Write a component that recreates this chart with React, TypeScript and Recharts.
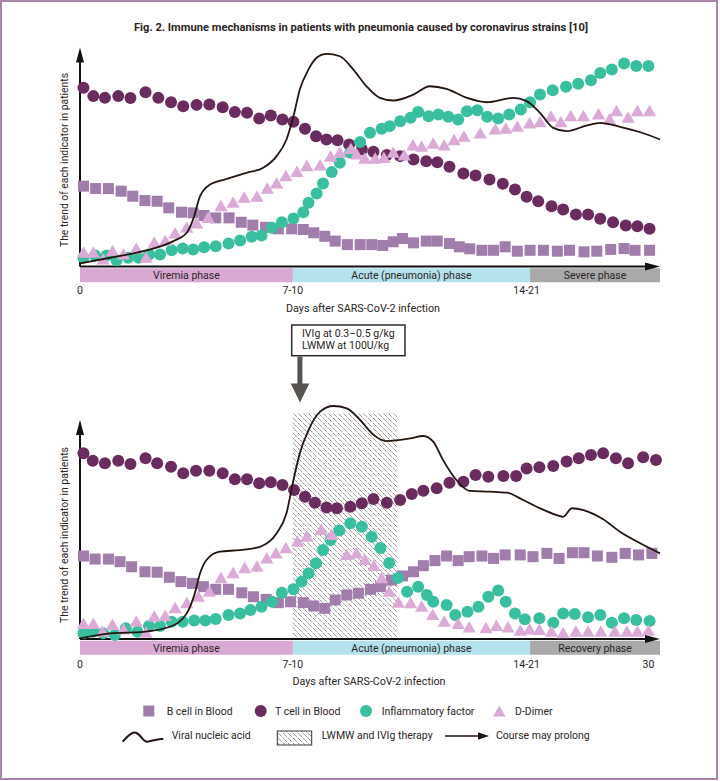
import React from 'react';
import {
  ComposedChart,
  Scatter,
  Line,
  XAxis,
  YAxis,
  ReferenceArea,
  ReferenceLine,
  ReferenceDot,
} from 'recharts';

// ---------- colours ----------
const C_B = '#a07dab';
const C_T = '#6a2c5e';
const C_INF = '#39bf9f';
const C_DD = '#dcaad7';
const C_LINE = '#24150f';
const TXT = '#2b2523';
const FRAME = '#a884a8';

// ---------- shared axis data ----------
const phaseBounds = [0, 36.7, 77.6, 100];
const phaseColors = ['#d9a9d3', '#b4e2ec', '#a9a9a9'];
const topPhaseNames = ['Viremia phase', 'Acute (pneumonia) phase', 'Severe phase'];
const bottomPhaseNames = ['Viremia phase', 'Acute (pneumonia) phase', 'Recovery phase'];
const topTickValues = [0, 36.7, 77.0];
const topTickLabels = ['0', '7-10', '14-21'];
const bottomTickValues = [0, 36.7, 77.0, 98.0];
const bottomTickLabels = ['0', '7-10', '14-21', '30'];
const therapyWindow = [36.6, 54.7];

// ---------- top panel (without therapy) ----------
const topTCellX = [0.6,2.3,4.3,6.6,8.7,11.3,13.5,15.7,17.8,20.1,22.3,24.6,26.7,28.8,30.9,32.9,34.9,36.8,38.8,40.7,42.5,44.4,46.4,48.6,50.6,52.9,55.2,57.5,59.7,61.6,63.7,66.1,68.2,70.6,72.9,75.0,77.0,79.0,81.3,83.3,85.5,87.6,89.7,91.9,94.1,96.1,98.2];
const topTCellY = [81.6,77.8,77.0,77.8,76.9,79.6,77.0,75.0,73.2,73.8,74.0,72.7,70.5,70.2,67.6,69.0,67.1,66.1,62.9,59.5,58.0,57.7,55.7,53.4,52.4,50.9,50.4,48.9,48.1,47.6,45.5,42.5,41.6,39.7,37.8,35.2,31.8,29.8,27.5,26.0,23.7,23.7,21.8,20.2,18.7,18.4,17.2];

const topBCellX = [0.6,2.7,4.9,7.1,9.1,11.2,13.3,15.3,17.5,19.5,21.4,23.4,25.7,27.8,29.8,32.0,34.2,36.5,38.5,40.3,42.2,44.0,46.1,48.3,50.3,52.2,54.0,55.6,57.5,59.7,61.6,63.7,65.4,67.2,69.3,71.3,73.3,75.4,77.6,79.9,82.3,84.4,86.9,89.1,91.5,93.8,95.7,98.2];
const topBCellY = [36.7,35.6,35.6,34.4,32.1,30.1,29.8,26.8,24.8,24.5,23.3,22.2,22.2,20.2,18.9,17.9,17.2,17.2,16.9,15.4,13.8,11.6,10.0,10.0,10.0,9.6,11.3,12.8,10.8,11.6,11.6,10.5,9.0,8.1,7.4,7.4,9.0,7.0,7.4,7.4,7.0,7.4,6.7,7.0,7.8,8.2,7.4,7.4];

const topInflX = [0.6,2.6,4.6,6.3,8.3,10.1,11.9,13.8,15.8,17.7,19.5,21.4,23.4,25.6,27.6,29.6,31.3,33.1,34.8,36.8,38.5,39.4,40.8,41.9,43.4,44.8,46.6,48.3,50.0,52.0,53.4,55.2,57.0,58.3,60.1,61.8,63.5,65.2,66.7,68.5,70.2,72.1,74.0,76.0,77.6,79.3,81.5,83.8,85.9,88.1,89.7,91.7,93.8,95.9,98.0];
const topInflY = [4.0,5.0,5.0,2.9,4.0,4.0,5.5,5.5,7.4,8.2,7.8,8.8,9.3,10.5,11.9,13.6,14.2,17.7,20.2,21.9,24.8,29.1,33.3,37.9,43.1,47.4,51.9,56.8,61.1,62.9,64.1,66.3,67.9,70.5,68.6,69.4,68.4,67.1,70.9,71.4,68.4,67.6,69.4,71.7,75.0,78.5,80.5,82.1,83.4,85.1,88.4,90.0,92.7,91.5,91.5];

const topDimerX = [0.6,2.3,4.0,5.6,7.5,9.7,11.4,12.8,14.7,16.4,18.4,20.1,22.1,24.3,26.4,28.3,30.5,32.3,33.9,35.5,37.4,39.1,41.4,43.2,44.8,46.7,47.7,49.1,50.9,52.4,54.0,55.9,57.4,58.9,60.9,62.8,64.5,66.2,69.0,71.6,73.4,75.4,77.5,79.3,81.2,82.9,84.6,86.8,89.4,91.3,92.5,94.5,96.1,98.2];
const topDimerY = [6.3,6.3,3.2,7.0,5.5,8.1,4.0,10.8,11.6,15.1,17.7,19.6,22.2,27.5,29.1,31.4,31.8,35.5,37.9,41.2,43.2,45.8,46.1,50.1,51.9,53.7,51.1,49.2,49.2,49.6,51.9,50.7,55.3,54.7,56.0,55.3,57.7,59.2,60.7,62.6,62.9,63.8,65.3,65.9,68.4,65.9,68.6,68.6,69.4,67.1,70.9,67.9,70.9,70.9];

const topViralX = [0,5.2,10.9,16.1,18.4,19.5,20.7,22.4,25.3,28.7,31.6,33.9,35.6,36.8,37.9,39.4,40.8,42.5,44.8,47.1,49.4,51.7,54.0,57.5,60.3,63.2,66.7,70.1,74.7,77.0,79.3,81.6,83.9,87.4,89.7,93.1,96.6,100];
const topViralY = [1.4,4.0,7.0,11.6,15.4,21.5,32.1,37.4,40.0,42.8,45.1,50.4,58.0,68.6,80.8,90.0,95.3,97.1,96.0,90.0,82.3,77.0,75.8,78.5,82.3,81.1,77.0,75.0,77.0,75.5,70.2,63.3,61.8,64.4,65.6,63.8,61.3,58.0];

// ---------- bottom panel (with therapy) ----------
const botTCellX = [0.6,2.2,4.3,6.6,8.7,11.3,13.3,15.7,17.8,20.0,22.3,24.6,26.7,28.8,30.9,32.9,34.9,36.9,38.8,40.5,42.5,44.3,46.6,48.6,50.6,52.9,55.2,57.2,59.2,61.5,63.7,66.1,68.2,70.4,73.0,75.2,77.0,79.2,81.6,83.9,86.0,88.1,90.2,92.4,94.5,97.1,99.3];
const botTCellY = [84.8,81.4,80.2,81.4,79.9,82.5,80.2,78.7,75.7,76.8,76.8,75.7,72.9,72.9,71.1,71.6,70.3,68.0,65.0,62.2,60.1,59.7,60.4,62.0,63.9,62.2,63.5,66.2,67.7,68.8,71.4,71.8,74.9,74.1,74.4,74.4,77.9,78.4,79.0,81.0,82.5,84.0,84.8,82.5,80.2,83.0,81.7];

const botBCellX = [0.6,2.6,4.9,6.9,8.9,11.2,13.3,15.4,17.4,19.4,21.3,23.4,25.6,27.9,29.9,32.1,34.2,36.3,38.5,40.3,42.2,44.0,46.0,48.0,50.1,51.8,53.7,55.6,57.5,59.2,61.2,63.2,65.2,67.1,69.3,71.3,73.3,75.9,78.1,80.5,82.6,84.9,86.9,89.2,91.7,94.0,96.3,98.6];
const botBCellY = [37.9,36.5,36.5,35.3,33.0,30.7,30.5,28.2,26.2,25.4,23.9,22.7,22.7,21.1,19.3,18.1,16.6,17.0,16.6,15.1,14.0,17.8,20.1,20.9,22.7,23.9,26.9,28.8,30.7,33.5,35.8,37.9,35.8,37.6,37.9,36.8,38.4,38.4,37.6,39.1,36.8,39.4,39.4,37.9,37.3,39.1,38.4,39.1];

const botInflX = [0.6,2.3,4.0,6.0,7.9,9.9,11.9,13.8,15.8,17.7,19.7,21.6,23.4,25.6,27.6,29.4,31.3,33.1,34.8,36.8,38.2,39.4,40.7,41.9,43.2,44.7,46.6,48.6,50.3,51.8,53.3,54.8,56.4,58.3,59.8,60.9,63.2,64.7,66.8,68.7,70.4,72.1,73.4,75.0,76.7,79.2,81.6,83.3,85.3,87.6,89.7,91.7,93.8,95.9,98.2];
const botInflY = [2.6,3.3,2.6,1.8,4.9,3.3,5.9,5.9,7.9,7.9,8.4,8.4,9.1,11.0,11.7,13.2,14.7,17.0,21.1,22.7,26.2,30.0,34.6,40.6,45.2,49.5,52.8,51.3,46.7,41.6,34.7,27.9,21.6,23.9,20.1,17.0,15.5,11.0,12.5,14.7,19.3,22.1,17.0,11.7,9.0,9.5,7.4,11.7,11.4,9.9,11.0,7.4,9.5,8.7,8.2];

const botDimerX = [0.6,2.3,3.9,5.6,7.5,9.7,11.4,12.8,14.7,16.4,18.4,20.4,22.3,24.3,26.4,28.4,30.5,32.2,33.8,35.5,37.5,39.1,41.6,43.4,46.0,47.7,49.1,50.7,52.0,53.3,54.9,57.0,58.9,60.8,62.8,65.2,67.1,70.0,71.8,73.8,75.9,77.5,79.2,81.3,83.3,85.5,87.6,89.8,92.2,94.3,96.1,98.0];
const botDimerY = [6.8,6.8,3.3,6.4,4.4,7.9,2.9,10.2,10.5,14.0,16.3,19.3,21.6,27.7,30.0,32.3,33.0,36.8,39.1,41.4,44.4,46.7,49.8,47.5,38.4,39.1,36.1,33.3,27.7,21.6,16.6,16.3,14.7,11.0,7.9,6.8,5.3,4.9,5.9,5.3,3.8,4.4,4.1,3.3,2.6,3.3,3.3,3.3,3.3,3.3,3.3,3.8];

const botViralX = [0,5.2,10.9,15.5,18.4,19.8,20.7,21.8,24.1,27.6,31.0,33.9,35.6,36.8,37.9,39.4,41.4,43.7,46.0,48.3,50.6,52.9,56.9,59.2,60.9,62.6,64.9,67.2,70.7,73.6,76.4,79.3,82.2,83.3,84.8,86.8,90.2,93.1,96.6,100];
const botViralY = [0.3,2.6,3.3,5.6,11.7,20.9,30.0,36.1,39.9,40.6,42.1,48.3,57.4,72.6,84.8,95.4,103.8,106.4,105.3,100.0,93.2,90.4,91.6,92.7,90.1,81.7,72.6,67.6,67.3,66.8,63.5,59.7,56.6,55.8,59.7,58.9,54.7,49.0,43.7,39.1];

type Pt = { x: number; y: number };
const zip = (xs: number[], ys: number[]): Pt[] => xs.map((x, i) => ({ x, y: ys[i] }));

// ---------- marker shapes ----------
const squareShape = (p: any) => (
  <rect x={p.cx - 5.5} y={p.cy - 5.5} width={11} height={11} fill={C_B} />
);
const tCircle = (p: any) => <circle cx={p.cx} cy={p.cy} r={6} fill={C_T} />;
const infCircle = (p: any) => <circle cx={p.cx} cy={p.cy} r={6} fill={C_INF} />;
const triShape = (p: any) => (
  <polygon
    points={`${p.cx},${p.cy - 6.5} ${p.cx + 6.6},${p.cy + 5} ${p.cx - 6.6},${p.cy + 5}`}
    fill={C_DD}
  />
);
const upArrow = (p: any) => (
  <polygon points={`${p.cx},${p.cy} ${p.cx + 4},${p.cy + 15} ${p.cx - 4},${p.cy + 15}`} fill="#111" />
);
const rightArrow = (p: any) => (
  <polygon points={`${p.cx},${p.cy} ${p.cx - 15},${p.cy - 4} ${p.cx - 15},${p.cy + 4}`} fill="#111" />
);

type PanelProps = {
  height: number;
  mt: number;
  mb: number;
  tickMargin: number;
  tCell: Pt[];
  bCell: Pt[];
  infl: Pt[];
  dimer: Pt[];
  viral: Pt[];
  phaseNames: string[];
  tickValues: number[];
  tickLabels: string[];
  hatch: boolean;
  pid: string;
};

const Panel = (props: PanelProps) => {
  const { tickValues, tickLabels } = props;
  return (
    <ComposedChart
      width={720}
      height={props.height}
      margin={{ top: props.mt, right: 60, bottom: props.mb, left: 80 }}
    >
      <defs>
        <pattern id={props.pid} patternUnits="userSpaceOnUse" width="5" height="5">
          <path d="M0,0 L5,5" stroke="#4d4d4d" strokeWidth="0.9" strokeDasharray="1 1.1" />
        </pattern>
      </defs>
      <XAxis
        type="number"
        dataKey="x"
        domain={[0, 100]}
        ticks={tickValues}
        interval={0}
        tickFormatter={(v: number) => tickLabels[tickValues.indexOf(v)] ?? ''}
        axisLine={false}
        tickLine={false}
        tickSize={0}
        tickMargin={props.tickMargin}
        height={30}
        tick={{ fontSize: 10.5, fill: TXT }}
      />
      <YAxis type="number" dataKey="y" domain={[-7.3, 110]} hide />
      {props.hatch && (
        <ReferenceArea
          x1={therapyWindow[0]}
          x2={therapyWindow[1]}
          y1={0}
          y2={103}
          fill={`url(#${props.pid})`}
          fillOpacity={1}
          stroke="none"
        />
      )}
      {props.phaseNames.map((n, i) => (
        <ReferenceArea
          key={n + i}
          x1={phaseBounds[i]}
          x2={phaseBounds[i + 1]}
          y1={-7.2}
          y2={-0.8}
          fill={phaseColors[i]}
          fillOpacity={1}
          stroke="none"
          label={{ value: n, position: 'center', fontSize: 10.5, fill: TXT }}
        />
      ))}
      <Scatter name="B cell in Blood" data={props.bCell} dataKey="y" shape={squareShape} isAnimationActive={false} />
      <Scatter name="T cell in Blood" data={props.tCell} dataKey="y" shape={tCircle} isAnimationActive={false} />
      <Scatter name="Inflammatory factor" data={props.infl} dataKey="y" shape={infCircle} isAnimationActive={false} />
      <Scatter name="D-Dimer" data={props.dimer} dataKey="y" shape={triShape} isAnimationActive={false} />
      <Line
        name="Viral nucleic acid"
        data={props.viral}
        dataKey="y"
        type="monotone"
        stroke={C_LINE}
        strokeWidth={1.8}
        dot={false}
        activeDot={false}
        isAnimationActive={false}
        zIndex={1000}
      />
      <ReferenceLine segment={[{ x: 0, y: 0 }, { x: 0, y: 95 }]} stroke="#111" strokeWidth={2} />
      <ReferenceLine segment={[{ x: 0, y: 0 }, { x: 97.5, y: 0 }]} stroke="#111" strokeWidth={2} />
      <ReferenceDot x={0} y={100} shape={upArrow} />
      <ReferenceDot x={100} y={0} shape={rightArrow} />
    </ComposedChart>
  );
};

const FONT = 'Roboto, "DejaVu Sans", sans-serif';

export default function App() {
  return (
    <div
      style={{
        position: 'absolute',
        left: 0,
        top: 0,
        width: 720,
        height: 781,
        background: '#fff',
        fontFamily: FONT,
        overflow: 'hidden',
      }}
    >
      <div style={{ position: 'absolute', left: 0, top: 0 }}>
        <Panel
          height={315}
          mt={25.6}
          mb={2.5}
          tickMargin={4}
          tCell={zip(topTCellX, topTCellY)}
          bCell={zip(topBCellX, topBCellY)}
          infl={zip(topInflX, topInflY)}
          dimer={zip(topDimerX, topDimerY)}
          viral={zip(topViralX, topViralY)}
          phaseNames={topPhaseNames}
          tickValues={topTickValues}
          tickLabels={topTickLabels}
          hatch={false}
          pid="hatchTop"
        />
      </div>
      <div style={{ position: 'absolute', left: 0, top: 370 }}>
        <Panel
          height={320}
          mt={28.1}
          mb={5}
          tickMargin={6}
          tCell={zip(botTCellX, botTCellY)}
          bCell={zip(botBCellX, botBCellY)}
          infl={zip(botInflX, botInflY)}
          dimer={zip(botDimerX, botDimerY)}
          viral={zip(botViralX, botViralY)}
          phaseNames={bottomPhaseNames}
          tickValues={bottomTickValues}
          tickLabels={bottomTickLabels}
          hatch={true}
          pid="hatchBottom"
        />
      </div>

      <svg
        width={720}
        height={781}
        style={{ position: 'absolute', left: 0, top: 0, pointerEvents: 'none' }}
        fontFamily={FONT}
      >
        <defs>
          <pattern id="hatchLegend" patternUnits="userSpaceOnUse" width="5" height="5">
            <path d="M0,0 L5,5" stroke="#4d4d4d" strokeWidth="0.9" strokeDasharray="1 1.1" />
          </pattern>
        </defs>
        {/* title */}
        <text x={361} y={31.4} textAnchor="middle" fontWeight={700} fontSize={10.5} fill={TXT} textLength={454} lengthAdjust="spacingAndGlyphs">
          Fig. 2. Immune mechanisms in patients with pneumonia caused by coronavirus strains [10]
        </text>
        {/* y titles */}
        <text transform="translate(67.5,160) rotate(-90)" textAnchor="middle" fontSize={10.5} fill={TXT} textLength={174} lengthAdjust="spacingAndGlyphs">
          The trend of each indicator in patients
        </text>
        <text transform="translate(67.5,535) rotate(-90)" textAnchor="middle" fontSize={10.5} fill={TXT} textLength={176} lengthAdjust="spacingAndGlyphs">
          The trend of each indicator in patients
        </text>
        {/* x titles */}
        <text x={363} y={311.7} textAnchor="middle" fontSize={10.5} fill={TXT} textLength={154} lengthAdjust="spacingAndGlyphs">
          Days after SARS-CoV-2 infection
        </text>
        <text x={369} y={685.4} textAnchor="middle" fontSize={10.5} fill={TXT} textLength={153} lengthAdjust="spacingAndGlyphs">
          Days after SARS-CoV-2 infection
        </text>
        {/* therapy box + arrow */}
        <rect x={291.7} y={325} width={113.3} height={30.7} fill="#fff" stroke="#2e2a27" strokeWidth={1.5} />
        <text x={302} y={337} fontSize={10.5} fill={TXT}>IVIg at 0.3–0.5 g/kg</text>
        <text x={302} y={348.8} fontSize={10.5} fill={TXT}>LWMW at 100U/kg</text>
        <rect x={297.4} y={356.5} width={5} height={27.5} fill="#57534f" />
        <polygon points="290.7,383.5 309.3,383.5 300,402.5" fill="#57534f" />

        {/* legend row 1 */}
        <rect x={143.3} y={705.5} width={11} height={11} fill={C_B} />
        <text x={166.7} y={714.7} fontSize={10.5} fill={TXT}>B cell in Blood</text>
        <circle cx={260.7} cy={711} r={6} fill={C_T} />
        <text x={275} y={714.7} fontSize={10.5} fill={TXT}>T cell in Blood</text>
        <circle cx={366} cy={711} r={6} fill={C_INF} />
        <text x={381.7} y={714.7} fontSize={10.5} fill={TXT}>Inflammatory factor</text>
        <polygon points="499.3,705.5 505.6,716.5 493,716.5" fill={C_DD} />
        <text x={515} y={714.7} fontSize={10.5} fill={TXT}>D-Dimer</text>

        {/* legend row 2 */}
        <path
          d="M122.7,741.7 C128,735.5 132,731.5 136,732.7 C141,734.5 143,742 147.3,741.7 C152,741.2 157,738.3 163.3,739"
          stroke={C_LINE}
          strokeWidth={2}
          fill="none"
        />
        <text x={171.7} y={739.4} fontSize={10.5} fill={TXT}>Viral nucleic acid</text>
        <rect x={277.3} y={731} width={34.4} height={14} fill="url(#hatchLegend)" stroke="#3a3431" strokeWidth={1} />
        <text x={321.7} y={739.4} fontSize={10.5} fill={TXT}>LWMW and IVIg therapy</text>
        <line x1={445} y1={736} x2={479} y2={736} stroke={C_LINE} strokeWidth={1.6} />
        <polygon points="489,736 478,732.3 478,739.7" fill={C_LINE} />
        <text x={496} y={739.4} fontSize={10.5} fill={TXT}>Course may prolong</text>
      </svg>

      <div
        style={{
          position: 'absolute',
          left: 0,
          top: 0,
          width: 718,
          height: 780,
          boxSizing: 'border-box',
          border: `2px solid ${FRAME}`,
          pointerEvents: 'none',
        }}
      />
    </div>
  );
}
